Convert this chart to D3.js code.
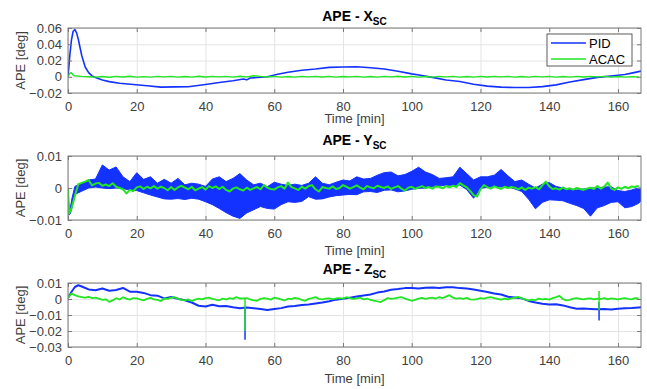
<!DOCTYPE html>
<html>
<head>
<meta charset="utf-8">
<script src="https://cdn.jsdelivr.net/npm/d3@7"></script>
<style>
  body { margin: 0; background: #fff; }
  svg { display: block; font-family: "Liberation Sans", Arial, Helvetica, sans-serif; }
</style>
</head>
<body>
<svg id="chart" width="647" height="389"></svg>
<script>
// time axis [min]
const timeMax = 166.7;
const timeTicks = [0, 20, 40, 60, 80, 100, 120, 140, 160];

// ---- APE - X_SC ----
const xTicks = [-0.02, 0, 0.02, 0.04, 0.06];
const pidXTime = [0, 0.5, 1, 1.5, 2, 2.5, 3, 3.5, 4, 5,
  6, 7, 8, 10, 12, 15, 19, 23, 27, 31,
  35, 40, 44, 48, 51, 52, 53, 55, 58, 61,
  64, 68, 72, 76, 80, 84, 88, 92, 96, 100,
  103, 106, 110, 114, 118, 122, 126, 130, 134, 138,
  142, 146, 150, 154, 158, 162, 164, 166.7];
const pidXVal = [0, 0.025, 0.045, 0.056, 0.058, 0.054, 0.046, 0.036, 0.026, 0.012,
  0.005, 0.001, -0.001, -0.004, -0.006, -0.008, -0.0095, -0.011, -0.0128, -0.0125,
  -0.0124, -0.0095, -0.007, -0.005, -0.0028, -0.0038, -0.0015, -0.001, 0.0, 0.003,
  0.0055, 0.008, 0.0095, 0.0115, 0.012, 0.0124, 0.011, 0.0095, 0.0068, 0.0035,
  0.0015, -0.0008, -0.004, -0.0058, -0.0092, -0.0115, -0.0128, -0.0133, -0.0133, -0.0122,
  -0.01, -0.0065, -0.0035, -0.0008, 0.001, 0.0028, 0.0045, 0.007];
const acacXTime = [0, 0.5, 1, 1.5].concat(d3.range(2, 167, 2));
const acacXVal = [0, 0.004, 0.005, 0.002,
  0.0012, 0.0005, 0.0, -0.0004, 0.0003, -0.0006, 0.0004, -0.0003, 0.0006, -0.0004,
  0.0002, -0.0005, 0.0004, -0.0002, 0.0005, -0.0004, 0.0003, -0.0005, 0.0006, -0.0003,
  0.0004, -0.0002, 0.0005, -0.0004, 0.0006, -0.0002, 0.0012, 0.0004, -0.0003, 0.0005,
  -0.0004, 0.0003, -0.0005, 0.0004, -0.0002, 0.0005, -0.0003, 0.0004, -0.0005, 0.0003,
  -0.0002, 0.0005, -0.0004, 0.0003, -0.0005, 0.0004, -0.0002, 0.0006, -0.0003, 0.0004,
  -0.0005, 0.0003, -0.0004, 0.0005, -0.0002, 0.0004, -0.0005, 0.0003, -0.0004, 0.0005,
  -0.0003, 0.0004, -0.0002, 0.0005, -0.0004, 0.0003, -0.0005, 0.0004, -0.0002, 0.0005,
  -0.0004, 0.0003, -0.0005, 0.0004, -0.0003, 0.0005, -0.0002, 0.0004, -0.0005, 0.0003,
  -0.0004, 0.0002, -0.0003];

// ---- APE - Y_SC ----
const yTicks = [-0.01, 0, 0.01];
// PID is a dense noisy trace: kept as its upper / lower envelope
const pidYTime = [0, 0.3, 0.7, 1.2].concat(d3.range(2, 167, 2), [166.7]);
const pidYHi = [0, -0.0075, -0.006, -0.003,
  0.0005, 0.0015, 0.0025, 0.0028, 0.0072, 0.0056, 0.0066, 0.0035, 0.002, 0.0048,
  0.0027, 0.0035, 0.0015, 0.0027, 0.0015, 0.003, 0.001, 0.0015, 0.0012, 0.0005,
  0.0028, 0.0035, 0.002, 0.003, 0.0045, 0.0025, 0.001, 0.0015, 0.0004, 0.0018,
  0.0012, 0.0008, 0.0012, 0.0008, 0.0015, 0.0035, 0.0015, 0.001, 0.0018, 0.0025,
  0.0022, 0.0035, 0.0028, 0.003, 0.004, 0.0048, 0.005, 0.0038, 0.0042, 0.0052,
  0.0065, 0.005, 0.0042, 0.003, 0.0032, 0.0035, 0.0065, 0.0045, 0.0025, 0.0035,
  0.0035, 0.004, 0.0058, 0.0038, 0.002, 0.0025, 0.0012, 0.0, 0.0012, 0.0017,
  0.0005, 0.0, -0.0004, -0.0006, -0.0003, 0.0, 0.0, 0.0003, 0.0004, -0.0008,
  -0.0011, -0.0006, 0.0,
  0.0];
const pidYLo = [0, -0.0085, -0.008, -0.006,
  -0.002, -0.001, 0.0, 0.0003, 0.0, -0.0002, 0.0, -0.0002, -0.0006, -0.0008,
  -0.0015, -0.0022, -0.0028, -0.0034, -0.0035, -0.0033, -0.0036, -0.0032, -0.0035, -0.0043,
  -0.0052, -0.0064, -0.0077, -0.0088, -0.0095, -0.0078, -0.0068, -0.0058, -0.0064, -0.0066,
  -0.0052, -0.0043, -0.0045, -0.0042, -0.0027, -0.0035, -0.0034, -0.0028, -0.0024, -0.0022,
  -0.002, -0.0021, -0.0012, -0.0011, -0.0014, -0.0007, -0.0006, -0.0012, -0.0009, -0.0004,
  -0.0001, 0.0, 0.0004, 0.0006, 0.0009, 0.0008, 0.0009, -0.0005, -0.0032, -0.0001,
  0.0002, 0.0005, 0.0003, 0.0004, -0.0003, -0.0011, -0.0035, -0.0065, -0.0045, -0.0037,
  -0.0038, -0.004, -0.0048, -0.0055, -0.0064, -0.0088, -0.0062, -0.0055, -0.0045, -0.0043,
  -0.0062, -0.0058, -0.0048,
  -0.004];
const acacYTime = [0, 0.3, 1, 2].concat(d3.range(3, 167));
const acacYVal = [0, -0.008, -0.0064, -0.0025,
  0.0012, 0.0016, 0.002, 0.0025, 0.0008, 0.0014, 0.0016, 0.0007, 0.0011, 0.0006,
  0.0015, 0.0004, 0.0, -0.0004, -0.0017, -0.0006, -0.001, 0.0002, 0.0005, -0.0003,
  0.0004, -0.0001, 0.0006, -0.0002, 0.0004, 0.0, -0.0007, 0.0003, -0.0006, 0.0002,
  0.0007, 0.0001, -0.0004, 0.0004, -0.0007, -0.0002, 0.0003, -0.0005, 0.0006, 0.0,
  0.0005, -0.0003, 0.0004, -0.0006, -0.0011, -0.0002, 0.0002, -0.0004, -0.0008, 0.0001,
  -0.0006, -0.0001, 0.0003, -0.0004, 0.0009, 0.0001, -0.0003, -0.0005, 0.0002, 0.0006,
  -0.0002, 0.0017, 0.0003, -0.0001, -0.0006, 0.0004, -0.0002, 0.0006, 0.0009, -0.0004,
  -0.0011, 0.0003, 0.0, -0.0002, 0.0005, -0.0003, 0.0, 0.0009, 0.0004, -0.0002,
  0.0003, 0.0008, 0.0001, -0.0004, 0.0006, 0.0002, -0.0001, 0.0007, 0.0003, 0.0,
  0.0005, -0.0003, 0.0002, 0.0006, -0.0002, -0.0008, 0.0001, 0.0004, -0.0003, 0.0002,
  0.0006, 0.0, 0.0003, -0.0002, 0.0005, 0.0004, -0.0001, 0.0006, 0.0002, 0.0007,
  0.0003, 0.0015, 0.0008, 0.0002, -0.0009, -0.0022, -0.0027, -0.0004, 0.0009, 0.0003,
  -0.0002, 0.0005, 0.0001, -0.0003, 0.0004, 0.0, 0.0003, 0.0001, -0.0004, 0.0002,
  -0.0006, 0.0001, -0.0002, 0.0003, -0.0004, 0.0008, 0.002, 0.0005, -0.0003, -0.0001,
  -0.0005, 0.0002, -0.0004, -0.0001, -0.0005, 0.0, -0.0003, -0.0006, -0.0002, 0.0001,
  -0.0003, 0.0006, -0.0002, 0.0004, 0.0017, -0.0001, -0.0006, 0.0002, -0.0003, 0.0004,
  -0.0001, 0.0005, 0.0003, 0.0007];

// ---- APE - Z_SC ----
const zTicks = [-0.03, -0.02, -0.01, 0, 0.01];
const pidZTime = [0, 1, 2, 3, 4].concat(d3.range(6, 167, 2), [166.7]);
const pidZVal = [0.0007, 0.0044, 0.0075, 0.0086, 0.0078,
  0.006, 0.0055, 0.0066, 0.0052, 0.0056, 0.0069, 0.0046, 0.0045, 0.0038, 0.0024,
  0.0021, 0.0004, 0.0012, 0.0002, -0.0008, -0.0022, -0.0042, -0.0047, -0.0036, -0.0045,
  -0.0044, -0.0052, -0.0058, -0.0053, -0.0058, -0.0063, -0.0069, -0.0063, -0.0057, -0.0047,
  -0.0044, -0.0038, -0.0035, -0.0028, -0.0022, -0.0014, -0.0004, 0.0001, 0.0008, 0.0015,
  0.0022, 0.0028, 0.004, 0.0047, 0.0058, 0.0062, 0.0068, 0.0069, 0.0066, 0.0071,
  0.0072, 0.0069, 0.0074, 0.0073, 0.0068, 0.0065, 0.006, 0.0051, 0.0044, 0.0035,
  0.0028, 0.0014, 0.0009, 0.0004, -0.0012, -0.0022, -0.003, -0.0035, -0.0033, -0.004,
  -0.0052, -0.0061, -0.006, -0.0062, -0.0064, -0.0062, -0.0065, -0.0061, -0.0058, -0.0057,
  -0.0053,
  -0.0052];
const acacZTime = d3.range(0, 167);
const acacZVal = [0.0007, 0.0034, 0.0024, 0.0016, 0.0012, 0.0008, 0.0014, 0.0005, 0.0009, 0.0002,
  -0.0006, -0.0002, -0.0018, -0.0009, 0.0005, -0.0003, 0.0011, 0.0002, -0.0004, 0.0006,
  0.0004, -0.0003, -0.0009, 0.0001, 0.0007, -0.0002, -0.0006, -0.0013, 0.0003, 0.0001,
  0.0008, 0.0011, 0.0002, -0.0005, -0.0009, -0.0003, -0.0013, -0.0004, 0.0002, -0.0002,
  0.0006, 0.0009, 0.0001, -0.0004, -0.0008, 0.0002, -0.0003, 0.0005, 0.0001, 0.0012,
  0.0003, 0.0004, 0.0006, -0.0003, -0.0008, -0.0011, 0.0001, 0.0006, 0.0002, -0.0004,
  0.0008, 0.0004, -0.0002, -0.0009, 0.0002, -0.0001, 0.0007, 0.0003, -0.0005, -0.0011,
  0.0001, 0.0005, 0.0012, 0.0001, -0.0003, 0.0002, 0.0004, -0.0001, 0.0003, 0.0005,
  0.0002, 0.0011, 0.0006, 0.0001, 0.0004, 0.0008, -0.0002, 0.0003, -0.0006, -0.001,
  -0.0015, -0.0019, -0.0007, 0.0006, 0.0001, 0.0004, 0.0009, 0.0012, 0.0003, -0.0004,
  -0.0011, -0.0006, 0.0002, 0.0007, 0.0001, 0.0005, 0.0009, 0.0003, 0.0012, 0.0006,
  0.0015, 0.0024, 0.0008, 0.0003, 0.0006, 0.0001, 0.0007, -0.0002, -0.0004, -0.0001,
  0.0005, 0.0002, 0.0008, 0.0011, 0.0006, 0.0001, -0.0004, 0.0003, -0.0002, 0.0004,
  0.0009, 0.0013, 0.0004, -0.0002, -0.0008, -0.0004, -0.0007, 0.0002, -0.0003, 0.0001,
  -0.0004, 0.0005, 0.0012, 0.002, -0.0001, -0.0009, -0.0006, 0.0002, 0.0005, 0.0001,
  -0.0003, 0.0002, 0.0004, -0.0002, 0.0003, 0.0, 0.0006, -0.0002, 0.0004, 0.0001,
  -0.0003, 0.0002, 0.0005, 0.0001, -0.0002, 0.0006, 0.0004];
// single-sample glitches (vertical strokes)
const spikeTime = [51.5, 154.5];
const pidZSpikeHi = [-0.005, -0.002];
const pidZSpikeLo = [-0.0255, -0.0135];
const acacZSpikeHi = [0.0, 0.005];
const acacZSpikeLo = [-0.02, -0.007];

const seriesNames = ["PID", "ACAC"];
const blue = "#1432ff";
const green = "#22e622";
const boxColor = "#7a7a7a";
const gridColor = "#e4e4e4";
const textColor = "#404040";

const svg = d3.select("#chart");
const plotLeft = 68, plotRight = 641;
const x = d3.scaleLinear().domain([0, timeMax]).range([plotLeft, plotRight]);

function drawPanel(id, top, bottom, yDomain, ticks, axisLetter, titleY, labelY, drawSeries) {
  const y = d3.scaleLinear().domain(yDomain).range([bottom, top]);
  const g = svg.append("g");

  g.append("clipPath").attr("id", "clip-" + id)
    .append("rect")
    .attr("x", plotLeft).attr("y", top)
    .attr("width", plotRight - plotLeft).attr("height", bottom - top);

  // grid
  g.append("g")
    .attr("transform", `translate(0,${bottom})`)
    .call(d3.axisBottom(x).tickValues(timeTicks).tickSize(-(bottom - top)).tickFormat(""))
    .call(s => s.select(".domain").remove())
    .selectAll("line").attr("stroke", gridColor);
  g.append("g")
    .attr("transform", `translate(${plotLeft},0)`)
    .call(d3.axisLeft(y).tickValues(ticks).tickSize(-(plotRight - plotLeft)).tickFormat(""))
    .call(s => s.select(".domain").remove())
    .selectAll("line").attr("stroke", gridColor);

  const data = g.append("g").attr("clip-path", `url(#clip-${id})`);
  drawSeries(data, y);

  // box + inward ticks
  g.append("rect")
    .attr("x", plotLeft).attr("y", top)
    .attr("width", plotRight - plotLeft).attr("height", bottom - top)
    .attr("fill", "none").attr("stroke", boxColor).attr("stroke-width", 1);

  const fmt = d => (d === 0 ? "0" : d3.format(".2f")(d));
  const axes = [
    [d3.axisBottom(x).tickValues(timeTicks).tickFormat(d3.format("d")), `translate(0,${bottom})`],
    [d3.axisTop(x).tickValues(timeTicks).tickFormat(""), `translate(0,${top})`],
    [d3.axisLeft(y).tickValues(ticks).tickFormat(fmt), `translate(${plotLeft},0)`],
    [d3.axisRight(y).tickValues(ticks).tickFormat(""), `translate(${plotRight},0)`]
  ];
  axes.forEach(([ax, tr], i) => {
    const a = g.append("g")
      .attr("transform", tr)
      .call(ax.tickSizeInner(-4).tickSizeOuter(0).tickPadding(i === 0 ? 9 : 6))
      .attr("font-size", 13)
      .attr("font-family", null);
    a.select(".domain").remove();
    a.selectAll(".tick line").attr("stroke", boxColor);
    a.selectAll(".tick text").attr("fill", textColor);
  });

  // title
  const t = g.append("text")
    .attr("x", (plotLeft + plotRight) / 2).attr("y", titleY)
    .attr("text-anchor", "middle")
    .attr("font-size", 14).attr("font-weight", "bold").attr("fill", "#000");
  t.append("tspan").text("APE - " + axisLetter);
  t.append("tspan").attr("font-size", 10).attr("dy", 4).text("SC");

  g.append("text")
    .attr("x", (plotLeft + plotRight) / 2).attr("y", labelY)
    .attr("text-anchor", "middle")
    .attr("font-size", 13).attr("fill", textColor)
    .text("Time [min]");

  g.append("text")
    .attr("transform", `translate(25,${(top + bottom) / 2}) rotate(-90)`)
    .attr("text-anchor", "middle")
    .attr("font-size", 13).attr("fill", textColor)
    .text("APE [deg]");
  return y;
}

function trace(g, y, times, vals, color, width) {
  g.append("path")
    .datum(d3.zip(times, vals))
    .attr("fill", "none")
    .attr("stroke", color)
    .attr("stroke-width", width)
    .attr("stroke-linejoin", "round")
    .attr("d", d3.line().x(d => x(d[0])).y(d => y(d[1])));
}

function spikes(g, y, times, hi, lo, color) {
  g.selectAll(null)
    .data(d3.zip(times, hi, lo))
    .join("line")
    .attr("x1", d => x(d[0])).attr("x2", d => x(d[0]))
    .attr("y1", d => y(d[1])).attr("y2", d => y(d[2]))
    .attr("stroke", color).attr("stroke-width", 1.5);
}

// panel 1
drawPanel("x", 28, 93, [-0.02, 0.06], xTicks, "X", 21, 123, (g, y) => {
  trace(g, y, pidXTime, pidXVal, blue, 1.6);
  trace(g, y, acacXTime, acacXVal, green, 1.4);
});

// legend (panel 1)
const leg = svg.append("g");
leg.append("rect")
  .attr("x", 547).attr("y", 34).attr("width", 85).attr("height", 32)
  .attr("fill", "#fff").attr("stroke", "#333").attr("stroke-width", 0.8);
[blue, green].forEach((c, i) => {
  const yy = 43 + i * 16;
  leg.append("line").attr("x1", 551).attr("x2", 586).attr("y1", yy).attr("y2", yy)
    .attr("stroke", c).attr("stroke-width", 1.6);
  leg.append("text").attr("x", 589).attr("y", yy + 4.5)
    .attr("font-size", 13).attr("fill", "#000").text(seriesNames[i]);
});

// panel 2
drawPanel("y", 156, 220, [-0.01, 0.01], yTicks, "Y", 145, 255, (g, y) => {
  g.append("path")
    .datum(d3.zip(pidYTime, pidYHi, pidYLo))
    .attr("fill", blue).attr("stroke", blue).attr("stroke-width", 1)
    .attr("stroke-linejoin", "round")
    .attr("d", d3.area().x(d => x(d[0])).y0(d => y(d[2])).y1(d => y(d[1])));
  trace(g, y, acacYTime, acacYVal, green, 2);
});

// panel 3
drawPanel("z", 283, 347, [-0.03, 0.01], zTicks, "Z", 274, 383, (g, y) => {
  trace(g, y, pidZTime, pidZVal, blue, 2);
  spikes(g, y, spikeTime, pidZSpikeHi, pidZSpikeLo, blue);
  trace(g, y, acacZTime, acacZVal, green, 1.8);
  spikes(g, y, spikeTime, acacZSpikeHi, acacZSpikeLo, green);
});
</script>
</body>
</html>
